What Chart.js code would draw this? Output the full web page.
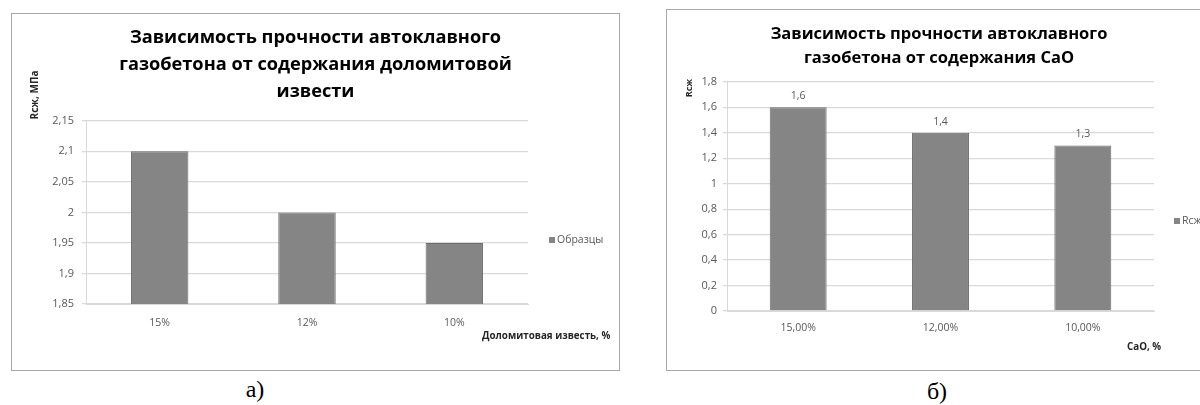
<!DOCTYPE html>
<html><head><meta charset="utf-8">
<script src="https://cdn.jsdelivr.net/npm/chart.js@4/dist/chart.umd.min.js"></script>
<style>
html,body{margin:0;padding:0;background:#fff;width:1200px;height:405px;overflow:hidden;position:relative;}
.box{position:absolute;border:1px solid #a8a8a8;background:#fff;box-sizing:border-box;}
canvas{position:absolute;}
.lbl{position:absolute;font-family:"Liberation Serif","DejaVu Serif",serif;font-size:24px;color:#000;transform:translate(-50%,-50%);}
</style></head>
<body>
<div class="box" style="left:11px;top:13px;width:609px;height:358px;"></div>
<canvas id="ca" width="607" height="356" style="left:12px;top:14px;"></canvas>
<div class="box" style="left:666px;top:9px;width:560px;height:362px;"></div>
<canvas id="cb" width="544" height="360" style="left:667px;top:10px;"></canvas>
<div class="lbl" style="left:255px;top:389px;">а)</div>
<div class="lbl" style="left:937px;top:391px;">б)</div>
<script>
// ---- data ----
const titleA = ['Зависимость прочности автоклавного', 'газобетона от содержания доломитовой', 'извести'];
const catsA = ['15%', '12%', '10%'];
const valsA = [2.1, 2.0, 1.95];
const seriesA = 'Образцы';
const yTitleA = 'Rсж, МПа';
const xTitleA = 'Доломитовая известь, %';
const yMinA = 1.85, yMaxA = 2.15, yStepA = 0.05;

const titleB = ['Зависимость прочности автоклавного', 'газобетона от содержания CaO'];
const catsB = ['15,00%', '12,00%', '10,00%'];
const valsB = [1.6, 1.4, 1.3];
const seriesB = 'Rсж';
const yTitleB = 'Rсж';
const xTitleB = 'CaO, %';
const yMinB = 0, yMaxB = 1.8, yStepB = 0.2;

// ---- helpers ----
const FONT = '"Open Sans", "DejaVu Sans", sans-serif';
const fmt = v => String(Math.round(v * 100) / 100).replace('.', ',');

const extras = {
  id: 'extras',
  afterDraw(chart, args, o) {
    const ctx = chart.ctx;
    ctx.save();
    ctx.fillStyle = '#262626';
    ctx.textAlign = 'center'; ctx.textBaseline = 'middle';
    // y title (rotated)
    ctx.font = 'bold ' + o.yTitle.size + 'px ' + FONT;
    ctx.save();
    ctx.translate(o.yTitle.x, o.yTitle.y);
    ctx.rotate(-Math.PI / 2);
    ctx.fillText(o.yTitle.text, 0, 0);
    ctx.restore();
    // x title
    ctx.font = 'bold ' + o.xTitle.size + 'px ' + FONT;
    ctx.textAlign = 'left';
    ctx.fillText(o.xTitle.text, o.xTitle.x, o.xTitle.y);
    // legend
    const ds = chart.data.datasets[0];
    ctx.fillStyle = ds.backgroundColor;
    ctx.fillRect(o.legend.x, o.legend.y - 3, 6, 6);
    ctx.fillStyle = '#595959';
    ctx.font = '10.5px ' + FONT;
    ctx.fillText(ds.label, o.legend.x + 8, o.legend.y);
    // data labels
    if (o.dataLabels) {
      ctx.textAlign = 'center';
      ctx.font = '10.5px ' + FONT;
      const meta = chart.getDatasetMeta(0);
      meta.data.forEach((el, i) => {
        ctx.fillText(fmt(ds.data[i]), el.x, el.y - 11);
      });
    }
    ctx.restore();
  }
};
Chart.register(extras);

function makeChart(id, cfg) {
  return new Chart(document.getElementById(id), {
    type: 'bar',
    data: {
      labels: cfg.cats,
      datasets: [{
        label: cfg.series, data: cfg.vals,
        backgroundColor: '#858585', borderColor: '#6c6c6c', borderWidth: 1,
        categoryPercentage: 1, barPercentage: cfg.barPct
      }]
    },
    options: {
      responsive: false, animation: false,
      layout: { padding: 0 },
      plugins: {
        legend: { display: false }, tooltip: { enabled: false },
        title: {
          display: true, text: cfg.title, color: '#000',
          font: { family: FONT, size: cfg.titleSize, weight: 'bold', lineHeight: cfg.titleLH },
          padding: cfg.titlePad
        },
        extras: cfg.extras
      },
      scales: {
        x: {
          grid: { display: false, drawTicks: false },
          border: { display: true, color: '#d9d9d9' },
          ticks: { color: '#595959', font: { family: FONT, size: 10.5 }, padding: cfg.xPad },
          afterFit: s => { s.height = cfg.xHeight; }
        },
        y: {
          min: cfg.yMin, max: cfg.yMax,
          ticks: { stepSize: cfg.yStep, color: '#595959', font: { family: FONT, size: 11 }, padding: cfg.yPad, callback: v => fmt(v) },
          grid: { color: '#d9d9d9', lineWidth: 1.3, tickLength: 4 },
          border: { color: '#d9d9d9' },
          afterFit: s => { s.width = cfg.yWidth; }
        },
        // empty right-hand space reserved for the legend area
        side: {
          type: 'linear', axis: 'y', position: 'right', display: true,
          grid: { display: false, drawTicks: false }, border: { display: false },
          ticks: { display: false },
          afterFit: s => { s.width = cfg.padRight; }
        }
      }
    }
  });
}

makeChart('ca', {
  cats: catsA, vals: valsA, series: seriesA, title: titleA, barPct: 0.39,
  padRight: 91, titleSize: 18.2, titleLH: 1.48, titlePad: { top: 10.5, bottom: 15.5 },
  xPad: 13, xHeight: 66, yMin: yMinA, yMax: yMaxA, yStep: yStepA, yPad: 8, yWidth: 74,
  extras: {
    yTitle: { text: yTitleA, x: 23, y: 81, size: 10 },
    xTitle: { text: xTitleA, x: 470, y: 322, size: 9.8 },
    legend: { x: 537, y: 226 },
    dataLabels: false
  }
});

makeChart('cb', {
  cats: catsB, vals: valsB, series: seriesB, title: titleB, barPct: 0.4,
  padRight: 57, titleSize: 16.5, titleLH: 1.45, titlePad: { top: 12, bottom: 12 },
  xPad: 11, xHeight: 59, yMin: yMinB, yMax: yMaxB, yStep: yStepB, yPad: 6, yWidth: 60,
  extras: {
    yTitle: { text: yTitleB, x: 22, y: 78, size: 9 },
    xTitle: { text: xTitleB, x: 460, y: 337, size: 9.8 },
    legend: { x: 507, y: 211 },
    dataLabels: true
  }
});
</script>
</body></html>
